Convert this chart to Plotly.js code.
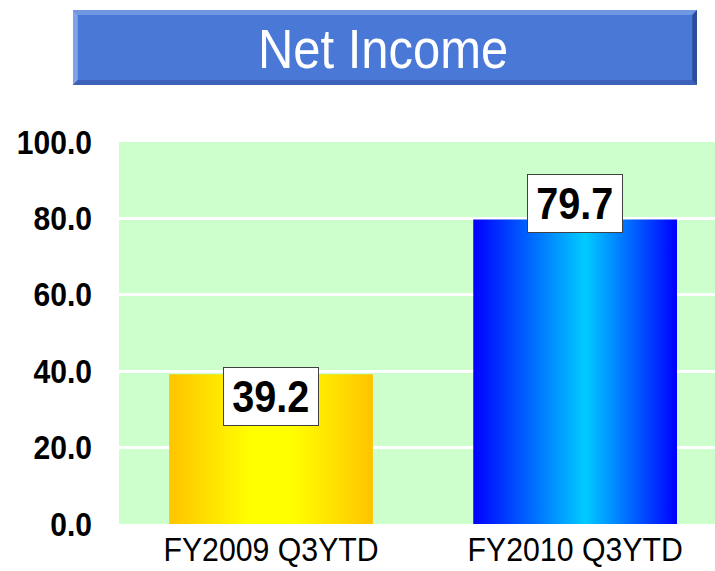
<!DOCTYPE html>
<html>
<head>
<meta charset="utf-8">
<script src="https://cdn.plot.ly/plotly-3.0.1.min.js"></script>
<style>html,body{margin:0;padding:0;background:#fff;}#chart{width:715px;height:571px;}</style>
</head>
<body>
<div id="chart"></div>
<script>
const categories = ['FY2009 Q3YTD', 'FY2010 Q3YTD'];
const netIncome = [39.2, 79.7];
const labels = ['39.2', '79.7'];
const yTicks = [0, 20, 40, 60, 80, 100];

const gradients = [
  {id: 'gYellow', stops: [['0%', '#ffc400'], ['40%', '#ffff00'], ['60%', '#ffff00'], ['100%', '#ffc400']]},
  {id: 'gBlue', stops: [['0%', '#0000ff'], ['55%', '#00ccff'], ['100%', '#0000ff']]}
];

const trace = {
  type: 'bar',
  x: categories,
  y: netIncome,
  marker: {color: ['#ffdd00', '#0088ff'], line: {width: 0}},
  hoverinfo: 'none'
};

const labelShift = [-22, 16];
const annotations = categories.map((c, i) => ({
  x: c, y: netIncome[i], xref: 'x', yref: 'y',
  text: labels[i], showarrow: false, yshift: labelShift[i],
  font: {family: 'Liberation Sans, Arial, sans-serif', size: 44, color: '#000', weight: 'bold'},
  bgcolor: '#ffffff', bordercolor: '#404040', borderwidth: 1, borderpad: 4
}));

// title box (bevelled)
const L = -0.0772, R = 0.9698, T = 1.3455, B = 1.149, bx = 0.008, by = 0.013;
const shapes = [
  {type: 'rect', xref: 'paper', yref: 'paper', x0: L, x1: R, y0: B, y1: T, fillcolor: '#4a78d6', line: {width: 0}, layer: 'above'},
  {type: 'path', xref: 'paper', yref: 'paper', path: `M${L},${T} L${R},${T} L${R-bx},${T-by} L${L+bx},${T-by} Z`, fillcolor: '#7097e3', line: {width: 0}, layer: 'above'},
  {type: 'path', xref: 'paper', yref: 'paper', path: `M${L},${T} L${L+bx},${T-by} L${L+bx},${B+by} L${L},${B} Z`, fillcolor: '#80a4ea', line: {width: 0}, layer: 'above'},
  {type: 'path', xref: 'paper', yref: 'paper', path: `M${L},${B} L${L+bx},${B+by} L${R-bx},${B+by} L${R},${B} Z`, fillcolor: '#3b62b8', line: {width: 0}, layer: 'above'},
  {type: 'path', xref: 'paper', yref: 'paper', path: `M${R},${T} L${R},${B} L${R-bx},${B+by} L${R-bx},${T-by} Z`, fillcolor: '#2d4e96', line: {width: 0}, layer: 'above'}
];

const layout = {
  width: 715, height: 571,
  margin: {l: 119, r: 0, t: 142, b: 47, pad: 0},
  paper_bgcolor: '#ffffff',
  plot_bgcolor: '#ccffcc',
  showlegend: false,
  bargap: 0.33,
  title: {
    text: 'Net Income',
    font: {family: 'Liberation Sans, Arial, sans-serif', size: 56, color: '#ffffff'},
    x: 0.443, xanchor: 'center', xref: 'paper',
    y: 0.916, yanchor: 'middle', yref: 'container'
  },
  xaxis: {
    type: 'category',
    range: [-0.5, 1.46],
    showgrid: false, zeroline: false, showline: false,
    tickfont: {family: 'Liberation Sans, Arial, sans-serif', size: 34, color: '#000'},
    ticks: '', ticklabelstandoff: 2, fixedrange: true
  },
  yaxis: {
    range: [0, 100],
    tickvals: yTicks,
    tickformat: '.1f',
    showgrid: true, gridcolor: '#ffffff', gridwidth: 3,
    zeroline: false, showline: false,
    ticks: '', ticklabelstandoff: 26,
    tickfont: {family: 'Liberation Sans, Arial, sans-serif', size: 33, color: '#000', weight: 'bold'},
    fixedrange: true
  },
  shapes: shapes,
  annotations: annotations
};

function condense(nodes, factor) {
  nodes.forEach(t => {
    const w = t.getComputedTextLength();
    t.setAttribute('textLength', (w * factor).toFixed(1));
    t.setAttribute('lengthAdjust', 'spacingAndGlyphs');
  });
}

Plotly.newPlot('chart', [trace], layout, {displayModeBar: false, staticPlot: true}).then(gd => {
  const svg = gd.querySelector('svg.main-svg');
  const ns = 'http://www.w3.org/2000/svg';
  let defs = svg.querySelector('defs');
  if (!defs) { defs = document.createElementNS(ns, 'defs'); svg.insertBefore(defs, svg.firstChild); }
  gradients.forEach(g => {
    const lg = document.createElementNS(ns, 'linearGradient');
    lg.setAttribute('id', g.id);
    lg.setAttribute('x1', '0'); lg.setAttribute('y1', '0');
    lg.setAttribute('x2', '1'); lg.setAttribute('y2', '0');
    g.stops.forEach(s => {
      const st = document.createElementNS(ns, 'stop');
      st.setAttribute('offset', s[0]);
      st.setAttribute('stop-color', s[1]);
      lg.appendChild(st);
    });
    defs.appendChild(lg);
  });
  gd.querySelectorAll('.barlayer .point path').forEach((p, i) => { p.style.fill = 'url(#' + gradients[i].id + ')'; });
  condense(gd.querySelectorAll('.gtitle'), 0.874);
  condense(gd.querySelectorAll('.xtick text'), 0.89);
  condense(gd.querySelectorAll('.ytick text'), 0.91);
  condense(gd.querySelectorAll('.annotation-text'), 0.9);
});
</script>
</body>
</html>
